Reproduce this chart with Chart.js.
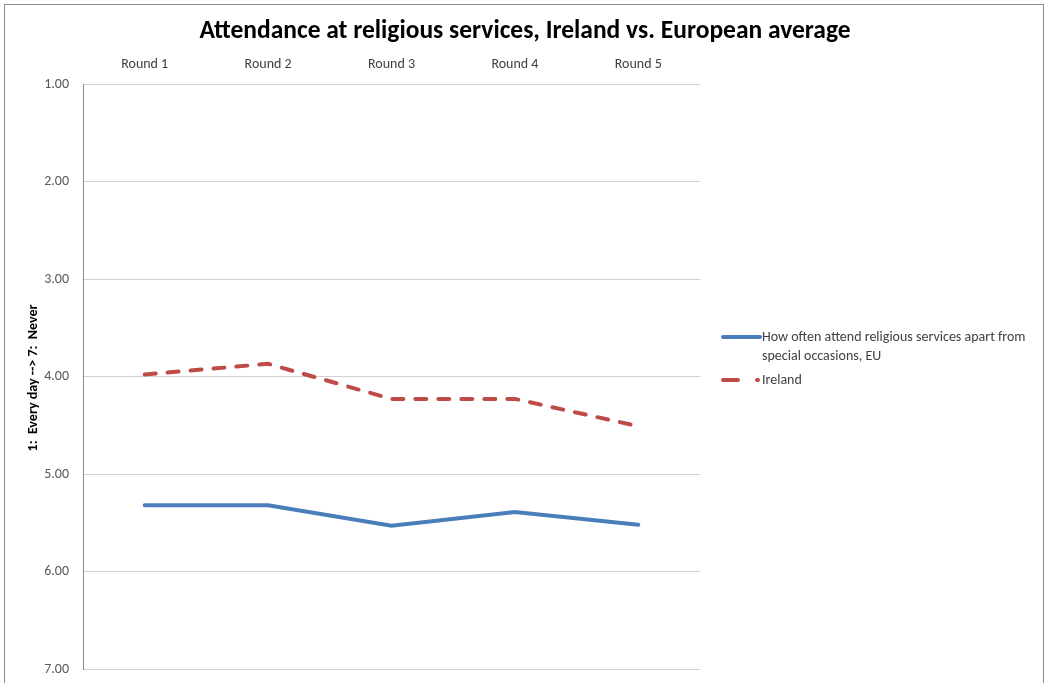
<!DOCTYPE html>
<html>
<head>
<meta charset="utf-8">
<script src="https://cdn.jsdelivr.net/npm/chart.js@4/dist/chart.umd.min.js"></script>
<style>
  html, body { margin: 0; padding: 0; background: #fff; }
  #wrap { position: relative; width: 1052px; height: 683px; }
</style>
</head>
<body>
<div id="wrap"><canvas id="chart" width="1052" height="683"></canvas></div>
<script>
// Data
const rounds = ['Round 1', 'Round 2', 'Round 3', 'Round 4', 'Round 5'];
const euValues = [5.32, 5.32, 5.53, 5.39, 5.52];
const irelandValues = [3.98, 3.87, 4.23, 4.23, 4.51];
const yTicks = [1, 2, 3, 4, 5, 6, 7];

const titleText = 'Attendance at religious services, Ireland vs. European average';
const yTitle = '1:  Every day --> 7:  Never';
const euLabel = ['How often attend religious services apart from', 'special occasions, EU'];
const irelandLabel = 'Ireland';

const FONT = "Carlito, Calibri, 'Liberation Sans Narrow', 'Open Sans', sans-serif";
const BLUE = '#4a7ebb';
const RED = '#be4b48';

// Draws the frame, title, y axis title and the legend
const decorations = {
    id: 'decorations',
    beforeDraw(chart) {
        const ctx = chart.ctx;
        ctx.save();
        ctx.fillStyle = '#fff';
        ctx.fillRect(0, 0, chart.width, chart.height);
        ctx.strokeStyle = '#8c8c8c';
        ctx.lineWidth = 1;
        ctx.strokeRect(4.5, 4.5, 1039, 700);
        ctx.restore();
    },
    afterDraw(chart) {
        const ctx = chart.ctx;
        ctx.save();
        ctx.fillStyle = '#000';
        ctx.textAlign = 'center';
        ctx.textBaseline = 'middle';
        ctx.font = 'bold 25.5px ' + FONT;
        ctx.fillText(titleText, 525, 32);

        ctx.translate(33, 378);
        ctx.rotate(-Math.PI / 2);
        ctx.font = 'bold 14px ' + FONT;
        ctx.fillText(yTitle, 0, 0);
        ctx.restore();

        // legend
        ctx.save();
        ctx.lineCap = 'round';
        ctx.lineWidth = 4;
        ctx.strokeStyle = BLUE;
        ctx.beginPath();
        ctx.moveTo(723, 337);
        ctx.lineTo(760, 337);
        ctx.stroke();

        ctx.strokeStyle = RED;
        ctx.beginPath();
        ctx.moveTo(723, 380);
        ctx.lineTo(738, 380);
        ctx.moveTo(757, 380);
        ctx.lineTo(758, 380);
        ctx.stroke();

        ctx.fillStyle = '#404040';
        ctx.textAlign = 'left';
        ctx.textBaseline = 'middle';
        ctx.font = '14px ' + FONT;
        ctx.fillText(euLabel[0], 762, 337);
        ctx.fillText(euLabel[1], 762, 356);
        ctx.fillText(irelandLabel, 762, 380);
        ctx.restore();
    }
};

new Chart(document.getElementById('chart'), {
    type: 'line',
    data: {
        labels: rounds,
        datasets: [
            {
                label: euLabel.join(' '),
                data: euValues,
                borderColor: BLUE,
                borderWidth: 4,
                pointRadius: 0,
                tension: 0,
                borderCapStyle: 'round'
            },
            {
                label: irelandLabel,
                data: irelandValues,
                borderColor: RED,
                borderWidth: 4,
                borderDash: [11, 12],
                borderCapStyle: 'round',
                pointRadius: 0,
                tension: 0
            }
        ]
    },
    options: {
        responsive: false,
        animation: false,
        layout: {
            padding: { left: 0, top: 54, right: 352, bottom: 14 }
        },
        plugins: {
            legend: { display: false },
            title: { display: false },
            tooltip: { enabled: false }
        },
        scales: {
            x: {
                position: 'top',
                offset: true,
                grid: { display: false, drawTicks: false },
                border: { display: false },
                ticks: {
                    color: '#404040',
                    font: { family: FONT, size: 14 },
                    padding: 11,
                    maxRotation: 0
                },
                afterFit(scale) { scale.height = 30; }
            },
            y: {
                reverse: true,
                min: 1,
                max: 7,
                afterBuildTicks(scale) {
                    scale.ticks = yTicks.map(v => ({ value: v }));
                },
                grid: { color: '#d0d0d0', drawTicks: false, lineWidth: 1 },
                border: { display: true, color: '#8c8c8c' },
                ticks: {
                    color: '#595959',
                    font: { family: FONT, size: 14 },
                    padding: 14,
                    callback: v => Number(v).toFixed(2)
                },
                afterFit(scale) {
                    scale.width = 83;
                    scale.paddingTop = 0;
                    scale.paddingBottom = 0;
                }
            }
        }
    },
    plugins: [decorations]
});
</script>
</body>
</html>
